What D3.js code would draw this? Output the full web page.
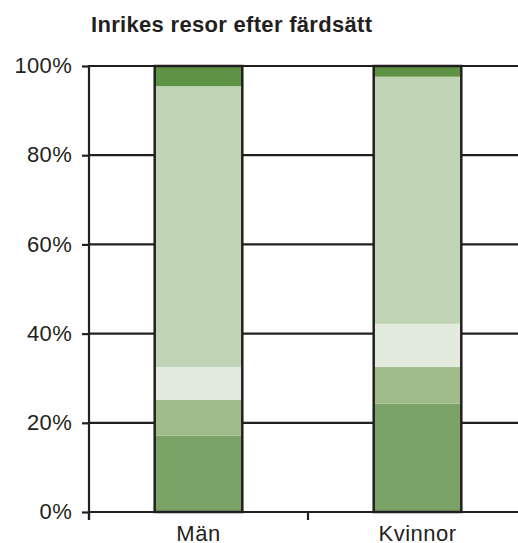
<!DOCTYPE html>
<html>
<head>
<meta charset="utf-8">
<script src="https://cdn.jsdelivr.net/npm/d3@7"></script>
<style>
  html, body { margin: 0; padding: 0; background: #fff; }
  svg { display: block; }
  text { font-family: "Liberation Sans", Arial, Helvetica, sans-serif; fill: #231f20; }
</style>
</head>
<body>
<svg id="chart" width="518" height="543"></svg>
<script>
const categories = ["Män", "Kvinnor"];
const seriesNames = ["Till fots", "Cykel", "Kollektivt", "Bil", "Övrigt"];
const valuesMan = [17.1, 8.1, 7.3, 63.0, 4.5];
const valuesKvinnor = [24.3, 8.2, 9.7, 55.4, 2.4];
const seriesColors = ["#7ba368", "#9ebb89", "#e3ebdf", "#c0d4b5", "#5e9245"];
const yTicks = [0, 20, 40, 60, 80, 100];
const titleText = "Inrikes resor efter färdsätt";

const rows = categories.map((c, i) => {
  const vals = i === 0 ? valuesMan : valuesKvinnor;
  const r = { category: c };
  seriesNames.forEach((s, j) => r[s] = vals[j]);
  return r;
});

const svg = d3.select("#chart");
const ink = "#231f20";
const mLeft = 89, mRight = 527, mTop = 66, mBottom = 512;

const x = d3.scaleBand().domain(categories).range([mLeft, mRight])
  .paddingInner(0.6).paddingOuter(0.3);
const y = d3.scaleLinear().domain([0, 100]).range([mBottom, mTop]);

// title
svg.append("text")
  .attr("x", 91).attr("y", 32)
  .attr("font-size", 22).attr("font-weight", "bold")
  .attr("textLength", 281).attr("lengthAdjust", "spacing")
  .text(titleText);

// gridlines
svg.append("g").selectAll("line").data(yTicks).join("line")
  .attr("x1", mLeft).attr("x2", 518)
  .attr("y1", d => y(d)).attr("y2", d => y(d))
  .attr("stroke", ink).attr("stroke-width", 2.2);

// y axis
const yAxis = svg.append("g").attr("transform", `translate(${mLeft},0)`)
  .call(d3.axisLeft(y).tickValues(yTicks).tickFormat(d => d + "%").tickSize(7).tickPadding(10));
yAxis.select(".domain").remove();
yAxis.selectAll(".tick line").attr("stroke", ink).attr("stroke-width", 2.2);
yAxis.selectAll("text").attr("font-size", 22).attr("letter-spacing", "0.3px")
  .attr("fill", ink).attr("dy", "0.3em");
svg.append("line").attr("x1", mLeft).attr("x2", mLeft)
  .attr("y1", y(100) - 1).attr("y2", mBottom + 8)
  .attr("stroke", ink).attr("stroke-width", 2.2);

// x axis labels
const xAxis = svg.append("g").attr("transform", `translate(0,${mBottom})`)
  .call(d3.axisBottom(x).tickSize(0).tickPadding(13));
xAxis.select(".domain").remove();
xAxis.selectAll("text").attr("font-size", 22).attr("letter-spacing", "0.5px").attr("fill", ink);

// x boundary ticks
const bounds = categories.map(c => x(c) + x.bandwidth() / 2 - x.step() / 2);
svg.append("g").selectAll("line").data(bounds).join("line")
  .attr("x1", d => d).attr("x2", d => d)
  .attr("y1", mBottom).attr("y2", mBottom + 8)
  .attr("stroke", ink).attr("stroke-width", 2.2);

// stacked bars
const stack = d3.stack().keys(seriesNames)(rows);
svg.append("g").selectAll("g").data(stack).join("g")
  .attr("fill", (d, i) => seriesColors[i])
  .selectAll("rect").data(d => d).join("rect")
  .attr("x", d => x(d.data.category))
  .attr("width", x.bandwidth())
  .attr("y", d => y(d[1]))
  .attr("height", d => y(d[0]) - y(d[1]));

// bar outlines
svg.append("g").selectAll("rect").data(rows).join("rect")
  .attr("x", d => x(d.category))
  .attr("width", x.bandwidth())
  .attr("y", d => y(d3.sum(seriesNames, s => d[s])))
  .attr("height", d => y(0) - y(d3.sum(seriesNames, s => d[s])))
  .attr("fill", "none").attr("stroke", ink).attr("stroke-width", 2.5);
</script>
</body>
</html>
